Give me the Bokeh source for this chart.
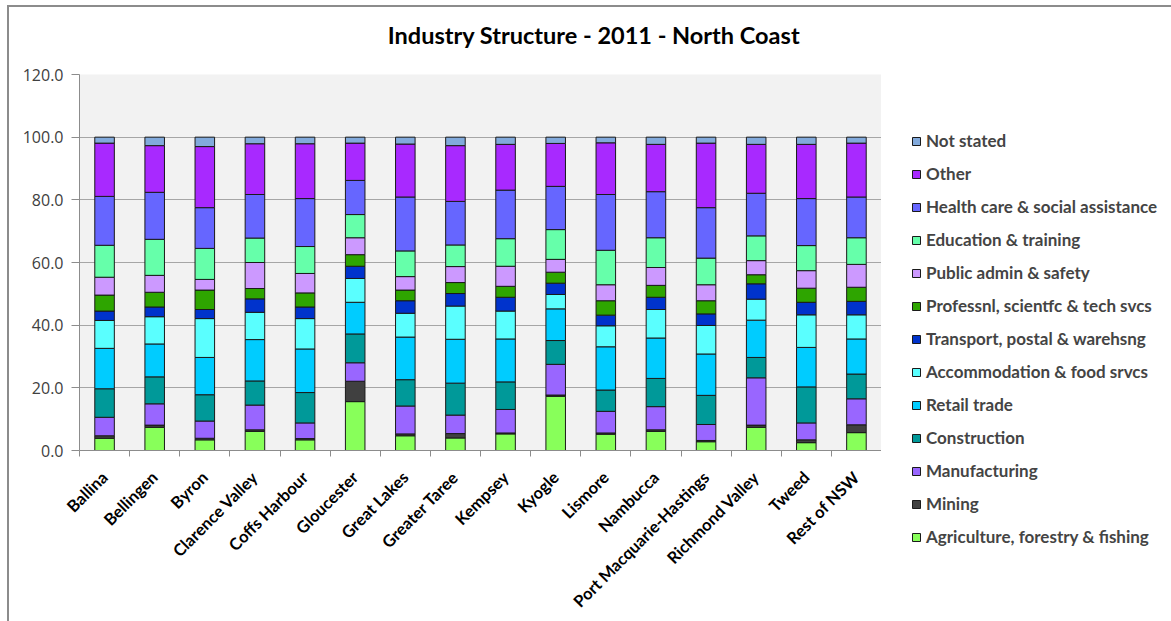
import math
from bokeh.plotting import figure
from bokeh.layouts import column, row
from bokeh.models import (ColumnDataSource, Range1d, FixedTicker, NumeralTickFormatter,
                          Legend, LegendItem, Label)
from bokeh.embed import file_html
from bokeh.resources import INLINE

categories = ["Ballina", "Bellingen", "Byron", "Clarence Valley", "Coffs Harbour",
              "Gloucester", "Great Lakes", "Greater Taree", "Kempsey", "Kyogle",
              "Lismore", "Nambucca", "Port Macquarie-Hastings", "Richmond Valley",
              "Tweed", "Rest of NSW"]

agriculture = [3.9, 7.4, 3.4, 6.1, 3.4, 15.6, 4.7, 4.0, 5.3, 17.3, 5.2, 6.1, 2.8, 7.4, 2.5, 5.7]
mining = [0.8, 0.7, 0.5, 0.5, 0.4, 6.5, 0.6, 1.4, 0.3, 0.4, 0.4, 0.5, 0.4, 0.7, 0.9, 2.5]
manufacturing = [5.9, 6.8, 5.5, 7.9, 5.0, 5.9, 8.9, 5.9, 7.5, 9.8, 6.9, 7.4, 5.1, 15.1, 5.4, 8.3]
construction = [9.1, 8.6, 8.4, 7.7, 9.7, 9.2, 8.4, 10.2, 8.8, 7.6, 6.8, 9.0, 9.3, 6.5, 11.5, 7.9]
retail = [12.9, 10.5, 11.9, 13.2, 13.9, 10.1, 13.6, 14.0, 13.7, 10.1, 13.8, 12.9, 13.2, 11.9, 12.6, 11.2]
accommodation = [8.9, 8.7, 12.4, 8.7, 9.7, 7.6, 7.6, 10.6, 8.9, 4.6, 6.7, 9.1, 9.1, 6.7, 10.4, 7.7]
transport = [3.0, 3.1, 2.9, 4.3, 3.7, 3.9, 4.0, 4.0, 4.4, 3.6, 3.4, 3.9, 3.7, 4.9, 4.0, 4.3]
professional = [5.1, 4.7, 6.2, 3.3, 4.5, 3.7, 3.4, 3.5, 3.5, 3.5, 4.6, 3.8, 4.2, 2.9, 4.5, 4.5]
public_admin = [5.7, 5.4, 3.4, 8.3, 6.2, 5.4, 4.3, 5.1, 6.4, 4.1, 5.1, 5.7, 5.1, 4.5, 5.6, 7.3]
education = [10.2, 11.5, 9.9, 7.8, 8.6, 7.4, 8.2, 6.9, 8.8, 9.5, 11.0, 9.5, 8.5, 7.9, 8.0, 8.5]
health = [15.6, 15.0, 13.0, 13.9, 15.3, 10.9, 17.2, 13.9, 15.5, 13.8, 17.8, 14.7, 16.1, 13.6, 15.0, 13.0]
other = [17.0, 14.9, 19.5, 16.2, 17.5, 11.9, 16.9, 17.8, 14.6, 13.7, 16.5, 15.1, 20.6, 15.6, 17.3, 17.2]
not_stated = [1.9, 2.7, 3.0, 2.1, 2.1, 1.9, 2.2, 2.7, 2.3, 2.0, 1.8, 2.3, 1.9, 2.3, 2.3, 1.9]

series_names = ["Agriculture, forestry & fishing", "Mining", "Manufacturing", "Construction",
                "Retail trade", "Accommodation & food srvcs", "Transport, postal & warehsng",
                "Professnl, scientfc & tech svcs", "Public admin & safety",
                "Education & training", "Health care & social assistance", "Other", "Not stated"]
series_values = [agriculture, mining, manufacturing, construction, retail, accommodation,
                 transport, professional, public_admin, education, health, other, not_stated]
series_colors = ["#88FF5A", "#404040", "#9966FF", "#009999", "#00CCFF", "#5AFFFF",
                 "#0033CC", "#2EA500", "#CC99FF", "#66FFAA", "#6666FF", "#A829FF", "#82AADC"]
y_ticks = [0, 20, 40, 60, 80, 100, 120]
title_text = "Industry Structure - 2011 - North Coast"

FONT = "Lato"
n = len(categories)
centers = [i + 0.5 for i in range(n)]
bounds = [float(i) for i in range(n + 1)]

data = {"x": centers}
keys = []
for k, vals in enumerate(series_values):
    key = f"s{k}"
    keys.append(key)
    data[key] = vals
source = ColumnDataSource(data)


def blank(fig):
    fig.outline_line_color = None
    fig.background_fill_color = "white"
    fig.border_fill_color = "white"
    fig.xgrid.grid_line_color = None
    fig.ygrid.grid_line_color = None


# ---- title strip ----
tfig = figure(width=872, height=57, output_backend="svg", toolbar_location=None,
              x_axis_location=None, y_axis_location=None, min_border=0,
              x_range=Range1d(0, 1), y_range=Range1d(0, 1))
blank(tfig)
tfig.add_layout(Label(x=514.5, y=30, x_units="screen", y_units="screen", text=title_text,
                      text_font=FONT, text_font_style="bold", text_font_size="23.5px",
                      text_align="center", text_baseline="middle", text_color="black"))

# ---- main chart ----
p = figure(width=872, height=557, output_backend="svg", toolbar_location=None,
           x_range=Range1d(0, n), y_range=Range1d(0, 120),
           min_border_left=70, min_border_right=0, min_border_top=10, min_border_bottom=170)
p.background_fill_color = "#F2F2F2"
p.border_fill_color = "white"
p.outline_line_color = None

p.vbar_stack(keys, x="x", width=0.39, source=source, color=series_colors,
             line_color="#1A1A1A", line_width=1)

yaxis = p.yaxis[0]
yaxis.ticker = FixedTicker(ticks=y_ticks)
yaxis.formatter = NumeralTickFormatter(format="0.0")
yaxis.major_label_text_font = "Open Sans"
yaxis.major_label_text_font_size = "16px"
yaxis.major_label_text_color = "#404040"
yaxis.axis_line_color = "#8C8C8C"
yaxis.major_tick_line_color = "#8C8C8C"
yaxis.major_tick_in = 0
yaxis.major_tick_out = 8
yaxis.minor_tick_line_color = None
yaxis.major_label_standoff = 8

xaxis = p.xaxis[0]
xaxis.ticker = FixedTicker(ticks=centers, minor_ticks=bounds)
xaxis.major_label_overrides = {c: name for c, name in zip(centers, categories)}
xaxis.major_label_orientation = math.pi / 4
xaxis.major_label_text_font = FONT
xaxis.major_label_text_font_style = "bold"
xaxis.major_label_text_font_size = "16.5px"
xaxis.major_label_text_color = "black"
xaxis.major_tick_line_color = None
xaxis.major_tick_in = 0
xaxis.major_tick_out = 0
xaxis.minor_tick_line_color = "#8C8C8C"
xaxis.minor_tick_in = 0
xaxis.minor_tick_out = 6
xaxis.axis_line_color = "#8C8C8C"
xaxis.major_label_standoff = 18

p.xgrid.grid_line_color = None
p.ygrid.ticker = FixedTicker(ticks=y_ticks)
p.ygrid.grid_line_color = "#A6A6A6"
p.ygrid.grid_line_width = 1

# ---- legend panel ----
lfig = figure(width=290, height=614, output_backend="svg", toolbar_location=None,
              x_axis_location=None, y_axis_location=None, min_border=0,
              x_range=Range1d(100, 101), y_range=Range1d(0, 120))
blank(lfig)
lrenderers = lfig.vbar_stack(keys, x="x", width=0.39, source=source, color=series_colors,
                             line_color="#1A1A1A", line_width=1)
for r in lrenderers:
    r.visible = False
items = [LegendItem(label=name, renderers=[r]) for name, r in zip(series_names, lrenderers)]
legend = Legend(items=list(reversed(items)), location=(30, 74),
                glyph_width=10, glyph_height=10, label_standoff=5,
                label_text_font=FONT, label_text_font_style="bold",
                label_text_font_size="17px", label_height=21, spacing=12,
                padding=0, margin=0, border_line_color=None,
                background_fill_alpha=0, inactive_fill_alpha=0)
lfig.add_layout(legend, "center")

layout = row(column(tfig, p, spacing=0), lfig, spacing=0)
layout.margin = (5, 0, 0, 7)
layout.styles = {"border-left": "2px solid #8C8C8C", "border-top": "2px solid #8C8C8C"}

open("out.html", "w").write(file_html(layout, INLINE))
